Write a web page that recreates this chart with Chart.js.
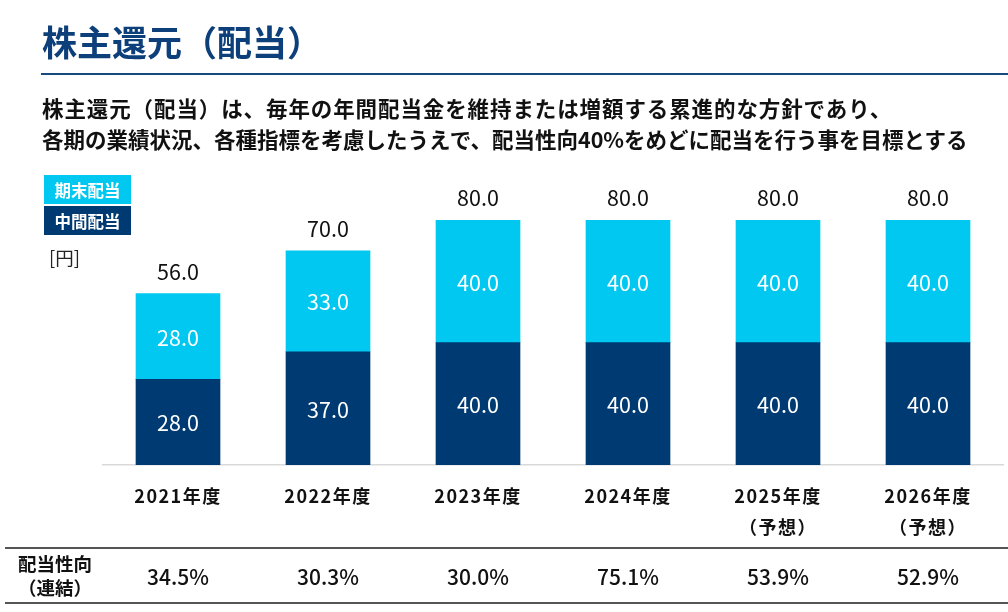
<!DOCTYPE html>
<html lang="ja">
<head>
<meta charset="UTF-8">
<title>株主還元（配当）</title>
<script src="https://cdn.jsdelivr.net/npm/chart.js"></script>
<style>
  body {
    margin: 0;
    width: 1008px;
    height: 612px;
    position: relative;
    overflow: hidden;
    background: #fff;
    font-family: "Noto Sans CJK JP", "Noto Sans", sans-serif;
    color: #111;
  }
  .chart-box { position: absolute; left: 0; top: 0; width: 1008px; height: 612px; }
  h1 {
    position: absolute; left: 42px; top: 21px; margin: 0;
    font-size: 35px; line-height: 40px; font-weight: bold; color: #0d3f7a;
  }
  .rule { position: absolute; left: 41px; right: 0; top: 73px; height: 2px; background: #174a7e; }
  .lead {
    position: absolute; left: 42px; top: 92px; margin: 0;
    font-size: 21.5px; line-height: 31px; font-weight: bold; color: #111;
  }
  .lead .wide { letter-spacing: 0.9px; }
  .legend { position: absolute; left: 44px; top: 175px; }
  .legend div {
    width: 87px; height: 29px; margin-bottom: 2px;
    display: flex; align-items: center; justify-content: center;
    color: #fff; font-size: 16.5px; font-weight: bold;
  }
  .unit { position: absolute; left: 49px; top: 245px; font-size: 18.5px; line-height: 24px; color: #222; }
  .row-label {
    position: absolute; left: 14px; top: 551px; width: 82px; text-align: center;
    font-size: 18.5px; line-height: 24px; font-weight: bold;
  }
  .line { position: absolute; left: 5px; right: 0; height: 2px; background: #555; }
</style>
</head>
<body>
<div class="chart-box"><canvas id="dividendChart"></canvas></div>

<h1>株主還元（配当）</h1>
<div class="rule"></div>
<p class="lead"><span class="wide">株主還元（配当）は、毎年の年間配当金を維持または増額する累進的な方針であり、</span><br>各期の業績状況、各種指標を考慮したうえで、配当性向40%をめどに配当を行う事を目標とする</p>
<div class="legend" id="legend"></div>
<div class="unit">[円]</div>
<div class="line" style="top:547px"></div>
<div class="row-label">配当性向<br>（連結）</div>
<div class="line" style="top:602px"></div>

<script>
  // data
  const years = [
    ['2021年度'], ['2022年度'], ['2023年度'], ['2024年度'],
    ['2025年度', '（予想）'], ['2026年度', '（予想）']
  ];
  const interimDividend = [28.0, 37.0, 40.0, 40.0, 40.0, 40.0];   // 中間配当
  const yearEndDividend = [28.0, 33.0, 40.0, 40.0, 40.0, 40.0];   // 期末配当
  const payoutRatio = ['34.5%', '30.3%', '30.0%', '75.1%', '53.9%', '52.9%'];

  const darkBlue = '#003a72';
  const lightBlue = '#00c8f0';
  const jpFont = '"Noto Sans CJK JP", "Noto Sans", sans-serif';

  // legend boxes (期末 on top)
  const legend = document.getElementById('legend');
  [['期末配当', lightBlue], ['中間配当', darkBlue]].forEach(([name, color]) => {
    const d = document.createElement('div');
    d.textContent = name;
    d.style.background = color;
    legend.appendChild(d);
  });

  // segment values, totals and the payout row
  const labelPlugin = {
    id: 'labels',
    beforeDraw(chart) {
      chart.ctx.letterSpacing = '1.5px';
    },
    afterDatasetsDraw(chart) {
      const ctx = chart.ctx;
      ctx.save();
      ctx.letterSpacing = '0px';
      ctx.textAlign = 'center';
      ctx.textBaseline = 'middle';
      ctx.font = '21.5px ' + jpFont;
      ctx.fillStyle = '#fff';
      chart.data.datasets.forEach((ds, di) => {
        chart.getDatasetMeta(di).data.forEach((bar, i) => {
          ctx.fillText(ds.data[i].toFixed(1), bar.x, (bar.y + bar.base) / 2 + 1);
        });
      });
      const top = chart.getDatasetMeta(chart.data.datasets.length - 1).data;
      ctx.fillStyle = '#111';
      top.forEach((bar, i) => {
        const total = interimDividend[i] + yearEndDividend[i];
        ctx.fillText(total.toFixed(1), bar.x, bar.y - 22);
      });
      ctx.font = '500 21px ' + jpFont;
      const xs = chart.scales.x;
      payoutRatio.forEach((p, i) => {
        ctx.fillText(p, xs.getPixelForValue(i), 577);
      });
      ctx.restore();
    }
  };

  new Chart(document.getElementById('dividendChart'), {
    type: 'bar',
    data: {
      labels: years,
      datasets: [
        { label: '中間配当', data: interimDividend, backgroundColor: darkBlue, barThickness: 84 },
        { label: '期末配当', data: yearEndDividend, backgroundColor: lightBlue, barThickness: 84 }
      ]
    },
    options: {
      responsive: true,
      maintainAspectRatio: false,
      animation: false,
      layout: { padding: { left: 103, right: 5, top: 159, bottom: 53 } },
      scales: {
        x: {
          stacked: true,
          grid: { display: false, drawTicks: false },
          border: { display: true, color: '#d9d9d9', width: 1.5 },
          ticks: {
            color: '#111',
            padding: 16,
            maxRotation: 0,
            autoSkip: false,
            font: { family: jpFont, size: 18, weight: 'bold', lineHeight: 1.72 }
          }
        },
        y: { stacked: true, display: false, min: 0, max: 100 }
      },
      plugins: {
        legend: { display: false },
        tooltip: { enabled: false }
      }
    },
    plugins: [labelPlugin]
  });
</script>
</body>
</html>
